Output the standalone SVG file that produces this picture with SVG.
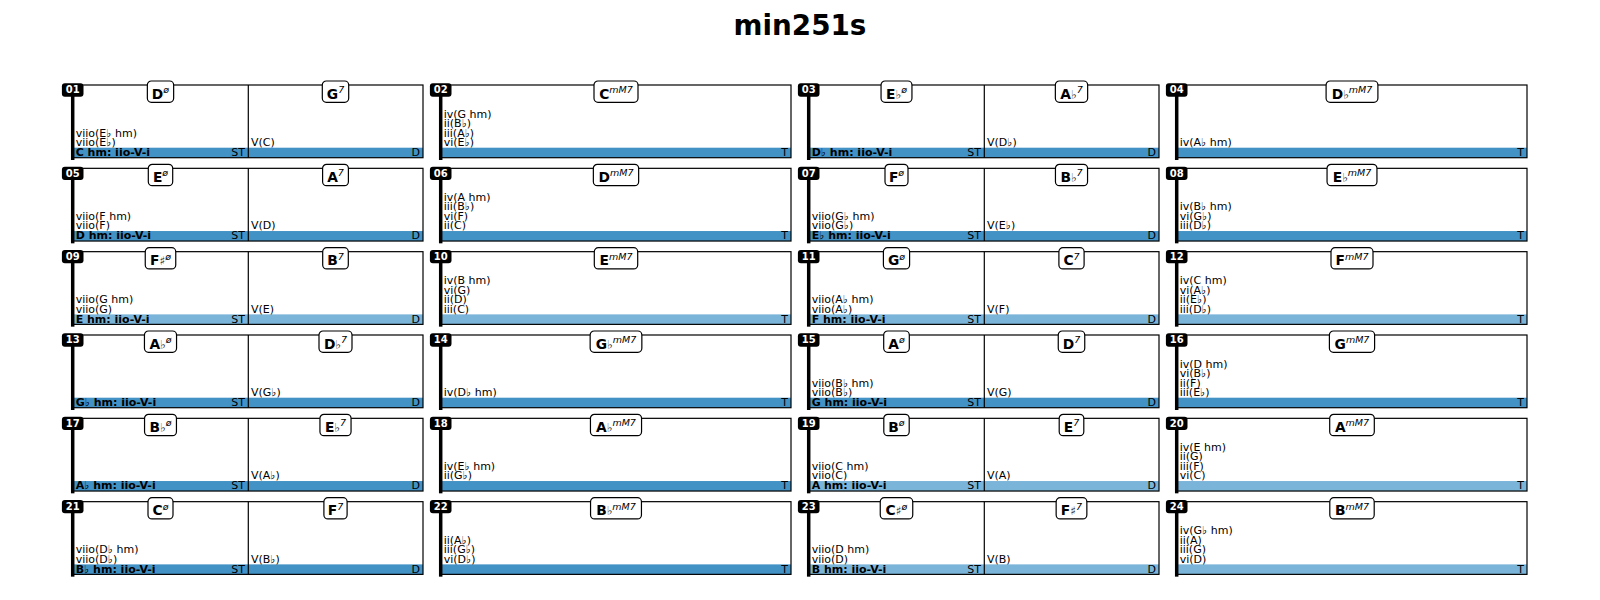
<svg xmlns="http://www.w3.org/2000/svg" width="1600" height="600" viewBox="0 0 1600 600">
<style>
text{font-family:"DejaVu Sans","Liberation Sans",sans-serif;fill:#000}
.title{font-size:27.8px;font-weight:bold;text-anchor:middle}
.box{fill:none;stroke:#000;stroke-width:1.2}
.dv{stroke:#000;stroke-width:1.2}
.bd{fill:#4292c6}
.bl{fill:#7ab4d9}
.t{font-size:11px}
.tb{font-size:11px;font-weight:bold}
.te{font-size:11px;text-anchor:end}
.spine{stroke:#000;stroke-width:3.5}
.badge{fill:#000}
.bt{font-size:10px;font-weight:bold;fill:#fff;text-anchor:middle}
.lb{fill:#fff;stroke:#000;stroke-width:1.2}
.ch{font-size:13.8px;font-weight:bold;text-anchor:middle}
.acc{font-weight:normal;font-size:12px;fill:#333}
.sup{font-weight:normal;font-style:italic;font-size:9.5px}
</style>
<rect x="0" y="0" width="1600" height="600" fill="#fff"/>
<text class="title" x="800" y="35">min251s</text>

<g id="cell01" transform="translate(73,85)">
<rect class="bd" x="0" y="62.7" width="350" height="10"/>
<rect class="box" x="0" y="0" width="350" height="72.7"/>
<line class="dv" x1="175.3" y1="0" x2="175.3" y2="72.7"/>
<text class="t" x="2.7" y="51.5">viio(E♭ hm)</text>
<text class="t" x="2.7" y="61">viio(E♭)</text>
<text class="t" x="178" y="61">V(C)</text>
<text class="tb" x="2.7" y="71">C hm: iio-V-i</text>
<text class="te" x="172" y="71">ST</text>
<text class="te" x="347" y="71">D</text>
<rect class="lb" x="74.35" y="-4" width="26.3" height="21.3" rx="4"/>
<text class="ch" x="87.5" y="13.5">D<tspan class="sup" dy="-5.5">ø</tspan></text>
<rect class="lb" x="249.3" y="-4" width="26.4" height="21.3" rx="4"/>
<text class="ch" x="262.5" y="13.5">G<tspan class="sup" dy="-5.5">7</tspan></text>
<line class="spine" x1="-0.3" y1="0" x2="-0.3" y2="75"/>
<rect class="badge" x="-11.1" y="-1.7" width="21.6" height="13.4" rx="3"/>
<text class="bt" x="-0.3" y="8.3">01</text>
</g>

<g id="cell02" transform="translate(441,85)">
<rect class="bd" x="0" y="62.7" width="350" height="10"/>
<rect class="box" x="0" y="0" width="350" height="72.7"/>
<text class="t" x="2.7" y="32.5">iv(G hm)</text>
<text class="t" x="2.7" y="42">ii(B♭)</text>
<text class="t" x="2.7" y="51.5">iii(A♭)</text>
<text class="t" x="2.7" y="61">vi(E♭)</text>
<text class="te" x="347" y="71">T</text>
<rect class="lb" x="153" y="-4" width="44" height="21.3" rx="4"/>
<text class="ch" x="175" y="13.5">C<tspan class="sup" dy="-5.5">mM7</tspan></text>
<line class="spine" x1="-0.3" y1="0" x2="-0.3" y2="75"/>
<rect class="badge" x="-11.1" y="-1.7" width="21.6" height="13.4" rx="3"/>
<text class="bt" x="-0.3" y="8.3">02</text>
</g>

<g id="cell03" transform="translate(809,85)">
<rect class="bd" x="0" y="62.7" width="350" height="10"/>
<rect class="box" x="0" y="0" width="350" height="72.7"/>
<line class="dv" x1="175.3" y1="0" x2="175.3" y2="72.7"/>
<text class="t" x="178" y="61">V(D♭)</text>
<text class="tb" x="2.7" y="71">D♭ hm: iio-V-i</text>
<text class="te" x="172" y="71">ST</text>
<text class="te" x="347" y="71">D</text>
<rect class="lb" x="72.05" y="-4" width="30.9" height="21.3" rx="4"/>
<text class="ch" x="87.5" y="13.5">E<tspan class="acc">♭</tspan><tspan class="sup" dy="-5.5">ø</tspan></text>
<rect class="lb" x="246.35" y="-4" width="32.3" height="21.3" rx="4"/>
<text class="ch" x="262.5" y="13.5">A<tspan class="acc">♭</tspan><tspan class="sup" dy="-5.5">7</tspan></text>
<line class="spine" x1="-0.3" y1="0" x2="-0.3" y2="75"/>
<rect class="badge" x="-11.1" y="-1.7" width="21.6" height="13.4" rx="3"/>
<text class="bt" x="-0.3" y="8.3">03</text>
</g>

<g id="cell04" transform="translate(1177,85)">
<rect class="bd" x="0" y="62.7" width="350" height="10"/>
<rect class="box" x="0" y="0" width="350" height="72.7"/>
<text class="t" x="2.7" y="61">iv(A♭ hm)</text>
<text class="te" x="347" y="71">T</text>
<rect class="lb" x="149.1" y="-4" width="51.8" height="21.3" rx="4"/>
<text class="ch" x="175" y="13.5">D<tspan class="acc">♭</tspan><tspan class="sup" dy="-5.5">mM7</tspan></text>
<line class="spine" x1="-0.3" y1="0" x2="-0.3" y2="75"/>
<rect class="badge" x="-11.1" y="-1.7" width="21.6" height="13.4" rx="3"/>
<text class="bt" x="-0.3" y="8.3">04</text>
</g>

<g id="cell05" transform="translate(73,168.33)">
<rect class="bd" x="0" y="62.7" width="350" height="10"/>
<rect class="box" x="0" y="0" width="350" height="72.7"/>
<line class="dv" x1="175.3" y1="0" x2="175.3" y2="72.7"/>
<text class="t" x="2.7" y="51.5">viio(F hm)</text>
<text class="t" x="2.7" y="61">viio(F)</text>
<text class="t" x="178" y="61">V(D)</text>
<text class="tb" x="2.7" y="71">D hm: iio-V-i</text>
<text class="te" x="172" y="71">ST</text>
<text class="te" x="347" y="71">D</text>
<rect class="lb" x="75.3" y="-4" width="24.4" height="21.3" rx="4"/>
<text class="ch" x="87.5" y="13.5">E<tspan class="sup" dy="-5.5">ø</tspan></text>
<rect class="lb" x="249.6" y="-4" width="25.8" height="21.3" rx="4"/>
<text class="ch" x="262.5" y="13.5">A<tspan class="sup" dy="-5.5">7</tspan></text>
<line class="spine" x1="-0.3" y1="0" x2="-0.3" y2="75"/>
<rect class="badge" x="-11.1" y="-1.7" width="21.6" height="13.4" rx="3"/>
<text class="bt" x="-0.3" y="8.3">05</text>
</g>

<g id="cell06" transform="translate(441,168.33)">
<rect class="bd" x="0" y="62.7" width="350" height="10"/>
<rect class="box" x="0" y="0" width="350" height="72.7"/>
<text class="t" x="2.7" y="32.5">iv(A hm)</text>
<text class="t" x="2.7" y="42">iii(B♭)</text>
<text class="t" x="2.7" y="51.5">vi(F)</text>
<text class="t" x="2.7" y="61">ii(C)</text>
<text class="te" x="347" y="71">T</text>
<rect class="lb" x="152.35" y="-4" width="45.3" height="21.3" rx="4"/>
<text class="ch" x="175" y="13.5">D<tspan class="sup" dy="-5.5">mM7</tspan></text>
<line class="spine" x1="-0.3" y1="0" x2="-0.3" y2="75"/>
<rect class="badge" x="-11.1" y="-1.7" width="21.6" height="13.4" rx="3"/>
<text class="bt" x="-0.3" y="8.3">06</text>
</g>

<g id="cell07" transform="translate(809,168.33)">
<rect class="bd" x="0" y="62.7" width="350" height="10"/>
<rect class="box" x="0" y="0" width="350" height="72.7"/>
<line class="dv" x1="175.3" y1="0" x2="175.3" y2="72.7"/>
<text class="t" x="2.7" y="51.5">viio(G♭ hm)</text>
<text class="t" x="2.7" y="61">viio(G♭)</text>
<text class="t" x="178" y="61">V(E♭)</text>
<text class="tb" x="2.7" y="71">E♭ hm: iio-V-i</text>
<text class="te" x="172" y="71">ST</text>
<text class="te" x="347" y="71">D</text>
<rect class="lb" x="76" y="-4" width="23" height="21.3" rx="4"/>
<text class="ch" x="87.5" y="13.5">F<tspan class="sup" dy="-5.5">ø</tspan></text>
<rect class="lb" x="246.45" y="-4" width="32.1" height="21.3" rx="4"/>
<text class="ch" x="262.5" y="13.5">B<tspan class="acc">♭</tspan><tspan class="sup" dy="-5.5">7</tspan></text>
<line class="spine" x1="-0.3" y1="0" x2="-0.3" y2="75"/>
<rect class="badge" x="-11.1" y="-1.7" width="21.6" height="13.4" rx="3"/>
<text class="bt" x="-0.3" y="8.3">07</text>
</g>

<g id="cell08" transform="translate(1177,168.33)">
<rect class="bd" x="0" y="62.7" width="350" height="10"/>
<rect class="box" x="0" y="0" width="350" height="72.7"/>
<text class="t" x="2.7" y="42">iv(B♭ hm)</text>
<text class="t" x="2.7" y="51.5">vi(G♭)</text>
<text class="t" x="2.7" y="61">iii(D♭)</text>
<text class="te" x="347" y="71">T</text>
<rect class="lb" x="150.05" y="-4" width="49.9" height="21.3" rx="4"/>
<text class="ch" x="175" y="13.5">E<tspan class="acc">♭</tspan><tspan class="sup" dy="-5.5">mM7</tspan></text>
<line class="spine" x1="-0.3" y1="0" x2="-0.3" y2="75"/>
<rect class="badge" x="-11.1" y="-1.7" width="21.6" height="13.4" rx="3"/>
<text class="bt" x="-0.3" y="8.3">08</text>
</g>

<g id="cell09" transform="translate(73,251.67)">
<rect class="bl" x="0" y="62.7" width="350" height="10"/>
<rect class="box" x="0" y="0" width="350" height="72.7"/>
<line class="dv" x1="175.3" y1="0" x2="175.3" y2="72.7"/>
<text class="t" x="2.7" y="51.5">viio(G hm)</text>
<text class="t" x="2.7" y="61">viio(G)</text>
<text class="t" x="178" y="61">V(E)</text>
<text class="tb" x="2.7" y="71">E hm: iio-V-i</text>
<text class="te" x="172" y="71">ST</text>
<text class="te" x="347" y="71">D</text>
<rect class="lb" x="72.25" y="-4" width="30.5" height="21.3" rx="4"/>
<text class="ch" x="87.5" y="13.5">F<tspan class="acc">♯</tspan><tspan class="sup" dy="-5.5">ø</tspan></text>
<rect class="lb" x="249.7" y="-4" width="25.6" height="21.3" rx="4"/>
<text class="ch" x="262.5" y="13.5">B<tspan class="sup" dy="-5.5">7</tspan></text>
<line class="spine" x1="-0.3" y1="0" x2="-0.3" y2="75"/>
<rect class="badge" x="-11.1" y="-1.7" width="21.6" height="13.4" rx="3"/>
<text class="bt" x="-0.3" y="8.3">09</text>
</g>

<g id="cell10" transform="translate(441,251.67)">
<rect class="bl" x="0" y="62.7" width="350" height="10"/>
<rect class="box" x="0" y="0" width="350" height="72.7"/>
<text class="t" x="2.7" y="32.5">iv(B hm)</text>
<text class="t" x="2.7" y="42">vi(G)</text>
<text class="t" x="2.7" y="51.5">ii(D)</text>
<text class="t" x="2.7" y="61">iii(C)</text>
<text class="te" x="347" y="71">T</text>
<rect class="lb" x="153.3" y="-4" width="43.4" height="21.3" rx="4"/>
<text class="ch" x="175" y="13.5">E<tspan class="sup" dy="-5.5">mM7</tspan></text>
<line class="spine" x1="-0.3" y1="0" x2="-0.3" y2="75"/>
<rect class="badge" x="-11.1" y="-1.7" width="21.6" height="13.4" rx="3"/>
<text class="bt" x="-0.3" y="8.3">10</text>
</g>

<g id="cell11" transform="translate(809,251.67)">
<rect class="bl" x="0" y="62.7" width="350" height="10"/>
<rect class="box" x="0" y="0" width="350" height="72.7"/>
<line class="dv" x1="175.3" y1="0" x2="175.3" y2="72.7"/>
<text class="t" x="2.7" y="51.5">viio(A♭ hm)</text>
<text class="t" x="2.7" y="61">viio(A♭)</text>
<text class="t" x="178" y="61">V(F)</text>
<text class="tb" x="2.7" y="71">F hm: iio-V-i</text>
<text class="te" x="172" y="71">ST</text>
<text class="te" x="347" y="71">D</text>
<rect class="lb" x="74.4" y="-4" width="26.2" height="21.3" rx="4"/>
<text class="ch" x="87.5" y="13.5">G<tspan class="sup" dy="-5.5">ø</tspan></text>
<rect class="lb" x="249.9" y="-4" width="25.2" height="21.3" rx="4"/>
<text class="ch" x="262.5" y="13.5">C<tspan class="sup" dy="-5.5">7</tspan></text>
<line class="spine" x1="-0.3" y1="0" x2="-0.3" y2="75"/>
<rect class="badge" x="-11.1" y="-1.7" width="21.6" height="13.4" rx="3"/>
<text class="bt" x="-0.3" y="8.3">11</text>
</g>

<g id="cell12" transform="translate(1177,251.67)">
<rect class="bl" x="0" y="62.7" width="350" height="10"/>
<rect class="box" x="0" y="0" width="350" height="72.7"/>
<text class="t" x="2.7" y="32.5">iv(C hm)</text>
<text class="t" x="2.7" y="42">vi(A♭)</text>
<text class="t" x="2.7" y="51.5">ii(E♭)</text>
<text class="t" x="2.7" y="61">iii(D♭)</text>
<text class="te" x="347" y="71">T</text>
<rect class="lb" x="154" y="-4" width="42" height="21.3" rx="4"/>
<text class="ch" x="175" y="13.5">F<tspan class="sup" dy="-5.5">mM7</tspan></text>
<line class="spine" x1="-0.3" y1="0" x2="-0.3" y2="75"/>
<rect class="badge" x="-11.1" y="-1.7" width="21.6" height="13.4" rx="3"/>
<text class="bt" x="-0.3" y="8.3">12</text>
</g>

<g id="cell13" transform="translate(73,335)">
<rect class="bd" x="0" y="62.7" width="350" height="10"/>
<rect class="box" x="0" y="0" width="350" height="72.7"/>
<line class="dv" x1="175.3" y1="0" x2="175.3" y2="72.7"/>
<text class="t" x="178" y="61">V(G♭)</text>
<text class="tb" x="2.7" y="71">G♭ hm: iio-V-i</text>
<text class="te" x="172" y="71">ST</text>
<text class="te" x="347" y="71">D</text>
<rect class="lb" x="71.45" y="-4" width="32.1" height="21.3" rx="4"/>
<text class="ch" x="87.5" y="13.5">A<tspan class="acc">♭</tspan><tspan class="sup" dy="-5.5">ø</tspan></text>
<rect class="lb" x="246" y="-4" width="33" height="21.3" rx="4"/>
<text class="ch" x="262.5" y="13.5">D<tspan class="acc">♭</tspan><tspan class="sup" dy="-5.5">7</tspan></text>
<line class="spine" x1="-0.3" y1="0" x2="-0.3" y2="75"/>
<rect class="badge" x="-11.1" y="-1.7" width="21.6" height="13.4" rx="3"/>
<text class="bt" x="-0.3" y="8.3">13</text>
</g>

<g id="cell14" transform="translate(441,335)">
<rect class="bd" x="0" y="62.7" width="350" height="10"/>
<rect class="box" x="0" y="0" width="350" height="72.7"/>
<text class="t" x="2.7" y="61">iv(D♭ hm)</text>
<text class="te" x="347" y="71">T</text>
<rect class="lb" x="149.15" y="-4" width="51.7" height="21.3" rx="4"/>
<text class="ch" x="175" y="13.5">G<tspan class="acc">♭</tspan><tspan class="sup" dy="-5.5">mM7</tspan></text>
<line class="spine" x1="-0.3" y1="0" x2="-0.3" y2="75"/>
<rect class="badge" x="-11.1" y="-1.7" width="21.6" height="13.4" rx="3"/>
<text class="bt" x="-0.3" y="8.3">14</text>
</g>

<g id="cell15" transform="translate(809,335)">
<rect class="bd" x="0" y="62.7" width="350" height="10"/>
<rect class="box" x="0" y="0" width="350" height="72.7"/>
<line class="dv" x1="175.3" y1="0" x2="175.3" y2="72.7"/>
<text class="t" x="2.7" y="51.5">viio(B♭ hm)</text>
<text class="t" x="2.7" y="61">viio(B♭)</text>
<text class="t" x="178" y="61">V(G)</text>
<text class="tb" x="2.7" y="71">G hm: iio-V-i</text>
<text class="te" x="172" y="71">ST</text>
<text class="te" x="347" y="71">D</text>
<rect class="lb" x="74.7" y="-4" width="25.6" height="21.3" rx="4"/>
<text class="ch" x="87.5" y="13.5">A<tspan class="sup" dy="-5.5">ø</tspan></text>
<rect class="lb" x="249.25" y="-4" width="26.5" height="21.3" rx="4"/>
<text class="ch" x="262.5" y="13.5">D<tspan class="sup" dy="-5.5">7</tspan></text>
<line class="spine" x1="-0.3" y1="0" x2="-0.3" y2="75"/>
<rect class="badge" x="-11.1" y="-1.7" width="21.6" height="13.4" rx="3"/>
<text class="bt" x="-0.3" y="8.3">15</text>
</g>

<g id="cell16" transform="translate(1177,335)">
<rect class="bd" x="0" y="62.7" width="350" height="10"/>
<rect class="box" x="0" y="0" width="350" height="72.7"/>
<text class="t" x="2.7" y="32.5">iv(D hm)</text>
<text class="t" x="2.7" y="42">vi(B♭)</text>
<text class="t" x="2.7" y="51.5">ii(F)</text>
<text class="t" x="2.7" y="61">iii(E♭)</text>
<text class="te" x="347" y="71">T</text>
<rect class="lb" x="152.4" y="-4" width="45.2" height="21.3" rx="4"/>
<text class="ch" x="175" y="13.5">G<tspan class="sup" dy="-5.5">mM7</tspan></text>
<line class="spine" x1="-0.3" y1="0" x2="-0.3" y2="75"/>
<rect class="badge" x="-11.1" y="-1.7" width="21.6" height="13.4" rx="3"/>
<text class="bt" x="-0.3" y="8.3">16</text>
</g>

<g id="cell17" transform="translate(73,418.33)">
<rect class="bd" x="0" y="62.7" width="350" height="10"/>
<rect class="box" x="0" y="0" width="350" height="72.7"/>
<line class="dv" x1="175.3" y1="0" x2="175.3" y2="72.7"/>
<text class="t" x="178" y="61">V(A♭)</text>
<text class="tb" x="2.7" y="71">A♭ hm: iio-V-i</text>
<text class="te" x="172" y="71">ST</text>
<text class="te" x="347" y="71">D</text>
<rect class="lb" x="71.55" y="-4" width="31.9" height="21.3" rx="4"/>
<text class="ch" x="87.5" y="13.5">B<tspan class="acc">♭</tspan><tspan class="sup" dy="-5.5">ø</tspan></text>
<rect class="lb" x="246.95" y="-4" width="31.1" height="21.3" rx="4"/>
<text class="ch" x="262.5" y="13.5">E<tspan class="acc">♭</tspan><tspan class="sup" dy="-5.5">7</tspan></text>
<line class="spine" x1="-0.3" y1="0" x2="-0.3" y2="75"/>
<rect class="badge" x="-11.1" y="-1.7" width="21.6" height="13.4" rx="3"/>
<text class="bt" x="-0.3" y="8.3">17</text>
</g>

<g id="cell18" transform="translate(441,418.33)">
<rect class="bd" x="0" y="62.7" width="350" height="10"/>
<rect class="box" x="0" y="0" width="350" height="72.7"/>
<text class="t" x="2.7" y="51.5">iv(E♭ hm)</text>
<text class="t" x="2.7" y="61">ii(G♭)</text>
<text class="te" x="347" y="71">T</text>
<rect class="lb" x="149.45" y="-4" width="51.1" height="21.3" rx="4"/>
<text class="ch" x="175" y="13.5">A<tspan class="acc">♭</tspan><tspan class="sup" dy="-5.5">mM7</tspan></text>
<line class="spine" x1="-0.3" y1="0" x2="-0.3" y2="75"/>
<rect class="badge" x="-11.1" y="-1.7" width="21.6" height="13.4" rx="3"/>
<text class="bt" x="-0.3" y="8.3">18</text>
</g>

<g id="cell19" transform="translate(809,418.33)">
<rect class="bl" x="0" y="62.7" width="350" height="10"/>
<rect class="box" x="0" y="0" width="350" height="72.7"/>
<line class="dv" x1="175.3" y1="0" x2="175.3" y2="72.7"/>
<text class="t" x="2.7" y="51.5">viio(C hm)</text>
<text class="t" x="2.7" y="61">viio(C)</text>
<text class="t" x="178" y="61">V(A)</text>
<text class="tb" x="2.7" y="71">A hm: iio-V-i</text>
<text class="te" x="172" y="71">ST</text>
<text class="te" x="347" y="71">D</text>
<rect class="lb" x="74.8" y="-4" width="25.4" height="21.3" rx="4"/>
<text class="ch" x="87.5" y="13.5">B<tspan class="sup" dy="-5.5">ø</tspan></text>
<rect class="lb" x="250.2" y="-4" width="24.6" height="21.3" rx="4"/>
<text class="ch" x="262.5" y="13.5">E<tspan class="sup" dy="-5.5">7</tspan></text>
<line class="spine" x1="-0.3" y1="0" x2="-0.3" y2="75"/>
<rect class="badge" x="-11.1" y="-1.7" width="21.6" height="13.4" rx="3"/>
<text class="bt" x="-0.3" y="8.3">19</text>
</g>

<g id="cell20" transform="translate(1177,418.33)">
<rect class="bl" x="0" y="62.7" width="350" height="10"/>
<rect class="box" x="0" y="0" width="350" height="72.7"/>
<text class="t" x="2.7" y="32.5">iv(E hm)</text>
<text class="t" x="2.7" y="42">ii(G)</text>
<text class="t" x="2.7" y="51.5">iii(F)</text>
<text class="t" x="2.7" y="61">vi(C)</text>
<text class="te" x="347" y="71">T</text>
<rect class="lb" x="152.7" y="-4" width="44.6" height="21.3" rx="4"/>
<text class="ch" x="175" y="13.5">A<tspan class="sup" dy="-5.5">mM7</tspan></text>
<line class="spine" x1="-0.3" y1="0" x2="-0.3" y2="75"/>
<rect class="badge" x="-11.1" y="-1.7" width="21.6" height="13.4" rx="3"/>
<text class="bt" x="-0.3" y="8.3">20</text>
</g>

<g id="cell21" transform="translate(73,501.67)">
<rect class="bd" x="0" y="62.7" width="350" height="10"/>
<rect class="box" x="0" y="0" width="350" height="72.7"/>
<line class="dv" x1="175.3" y1="0" x2="175.3" y2="72.7"/>
<text class="t" x="2.7" y="51.5">viio(D♭ hm)</text>
<text class="t" x="2.7" y="61">viio(D♭)</text>
<text class="t" x="178" y="61">V(B♭)</text>
<text class="tb" x="2.7" y="71">B♭ hm: iio-V-i</text>
<text class="te" x="172" y="71">ST</text>
<text class="te" x="347" y="71">D</text>
<rect class="lb" x="75" y="-4" width="25" height="21.3" rx="4"/>
<text class="ch" x="87.5" y="13.5">C<tspan class="sup" dy="-5.5">ø</tspan></text>
<rect class="lb" x="250.9" y="-4" width="23.2" height="21.3" rx="4"/>
<text class="ch" x="262.5" y="13.5">F<tspan class="sup" dy="-5.5">7</tspan></text>
<line class="spine" x1="-0.3" y1="0" x2="-0.3" y2="75"/>
<rect class="badge" x="-11.1" y="-1.7" width="21.6" height="13.4" rx="3"/>
<text class="bt" x="-0.3" y="8.3">21</text>
</g>

<g id="cell22" transform="translate(441,501.67)">
<rect class="bd" x="0" y="62.7" width="350" height="10"/>
<rect class="box" x="0" y="0" width="350" height="72.7"/>
<text class="t" x="2.7" y="42">ii(A♭)</text>
<text class="t" x="2.7" y="51.5">iii(G♭)</text>
<text class="t" x="2.7" y="61">vi(D♭)</text>
<text class="te" x="347" y="71">T</text>
<rect class="lb" x="149.55" y="-4" width="50.9" height="21.3" rx="4"/>
<text class="ch" x="175" y="13.5">B<tspan class="acc">♭</tspan><tspan class="sup" dy="-5.5">mM7</tspan></text>
<line class="spine" x1="-0.3" y1="0" x2="-0.3" y2="75"/>
<rect class="badge" x="-11.1" y="-1.7" width="21.6" height="13.4" rx="3"/>
<text class="bt" x="-0.3" y="8.3">22</text>
</g>

<g id="cell23" transform="translate(809,501.67)">
<rect class="bl" x="0" y="62.7" width="350" height="10"/>
<rect class="box" x="0" y="0" width="350" height="72.7"/>
<line class="dv" x1="175.3" y1="0" x2="175.3" y2="72.7"/>
<text class="t" x="2.7" y="51.5">viio(D hm)</text>
<text class="t" x="2.7" y="61">viio(D)</text>
<text class="t" x="178" y="61">V(B)</text>
<text class="tb" x="2.7" y="71">B hm: iio-V-i</text>
<text class="te" x="172" y="71">ST</text>
<text class="te" x="347" y="71">D</text>
<rect class="lb" x="71.25" y="-4" width="32.5" height="21.3" rx="4"/>
<text class="ch" x="87.5" y="13.5">C<tspan class="acc">♯</tspan><tspan class="sup" dy="-5.5">ø</tspan></text>
<rect class="lb" x="247.15" y="-4" width="30.7" height="21.3" rx="4"/>
<text class="ch" x="262.5" y="13.5">F<tspan class="acc">♯</tspan><tspan class="sup" dy="-5.5">7</tspan></text>
<line class="spine" x1="-0.3" y1="0" x2="-0.3" y2="75"/>
<rect class="badge" x="-11.1" y="-1.7" width="21.6" height="13.4" rx="3"/>
<text class="bt" x="-0.3" y="8.3">23</text>
</g>

<g id="cell24" transform="translate(1177,501.67)">
<rect class="bl" x="0" y="62.7" width="350" height="10"/>
<rect class="box" x="0" y="0" width="350" height="72.7"/>
<text class="t" x="2.7" y="32.5">iv(G♭ hm)</text>
<text class="t" x="2.7" y="42">ii(A)</text>
<text class="t" x="2.7" y="51.5">iii(G)</text>
<text class="t" x="2.7" y="61">vi(D)</text>
<text class="te" x="347" y="71">T</text>
<rect class="lb" x="152.8" y="-4" width="44.4" height="21.3" rx="4"/>
<text class="ch" x="175" y="13.5">B<tspan class="sup" dy="-5.5">mM7</tspan></text>
<line class="spine" x1="-0.3" y1="0" x2="-0.3" y2="75"/>
<rect class="badge" x="-11.1" y="-1.7" width="21.6" height="13.4" rx="3"/>
<text class="bt" x="-0.3" y="8.3">24</text>
</g>
</svg>
